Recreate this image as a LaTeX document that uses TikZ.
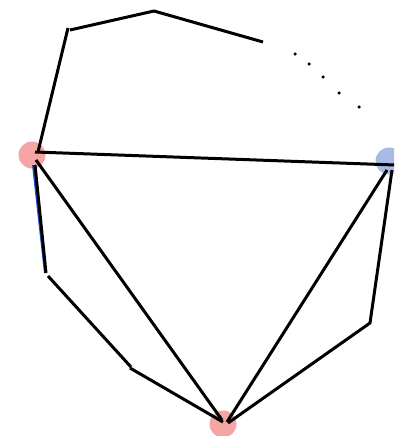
\documentclass[tikz,border=0pt]{standalone}
\definecolor{pinknode}{HTML}{F6A5A5}
\definecolor{bluenode}{HTML}{A8BAE6}
\definecolor{tintblue}{HTML}{2050D0}
\tikzset{
  vertex/.style={circle, inner sep=0pt, minimum size=27pt},
  edge/.style={line width=3pt, black, line join=round},
  dotmark/.style={circle, fill=black, inner sep=0pt, minimum size=3.5pt},
}
\begin{document}
\begin{tikzpicture}[x=1pt,y=-1pt]
\useasboundingbox (0,0) rectangle (394,436);
\clip (0,0) rectangle (394,436);
% vertices
\node[vertex, fill=pinknode] (L) at (32,155) {};
\node[vertex, fill=bluenode] (R) at (389,161) {};
\node[vertex, fill=pinknode] (B) at (223,424) {};
% corner points
\coordinate (t1) at (68,28);
\coordinate (t1b) at (70,30);
\coordinate (t2) at (154,11);
\coordinate (t3) at (263,42);
\coordinate (l1) at (46,273);
\coordinate (l1b) at (48,276);
\coordinate (l2) at (131,367);
\coordinate (l2b) at (130,368);
\coordinate (r1) at (370,323);
% triangle
\draw[edge] ([shift={(3,-3)}]L.center) -- ([shift={(6,4)}]R.center);
\draw[edge] ([shift={(4,5)}]L.center) -- ([shift={(-1,-4)}]B.center);
\draw[edge] ([shift={(-2,9)}]R.center) -- ([shift={(4,-2)}]B.center);
% upper path
\draw[edge] ([shift={(6,-3)}]L.center) -- (t1);
\draw[edge] (t1b) -- (t2) -- (t3);
% left lower path
\draw[line width=2pt, tintblue] ([shift={(1,10)}]L.center) -- ([shift={(-1,0)}]l1);
\draw[edge] ([shift={(3,10)}]L.center) -- (l1);
\draw[edge] (l1b) -- (l2);
\draw[edge] (l2b) -- ([shift={(0,-2)}]B.center);
% right lower path
\draw[edge] ([shift={(3,9)}]R.center) -- (r1) -- ([shift={(5,-1)}]B.center);
% dots
\node[dotmark] (d1) at (295,54) {};
\node[dotmark] (d2) at (309,64) {};
\node[dotmark] (d3) at (323,77) {};
\node[dotmark] (d4) at (339,93) {};
\node[dotmark] (d5) at (359,107) {};
\end{tikzpicture}
\end{document}
